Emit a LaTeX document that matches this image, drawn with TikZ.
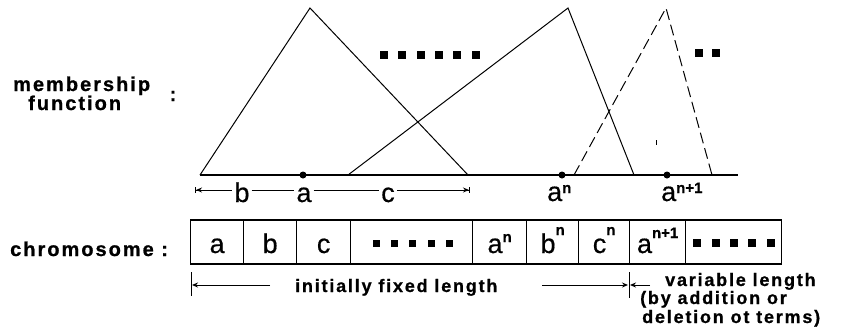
\documentclass[tikz,border=0pt]{standalone}
\usepackage{fontspec}
\setmainfont{Liberation Sans}
\newfontfamily\lblfont[LetterSpace=10,FakeBold=0.8]{Liberation Sans}
\newfontfamily\letfont[FakeBold=0.5]{Liberation Sans}
\usetikzlibrary{arrows.meta}
\newcommand\sups[2]{\raisebox{#1}{\bfseries\fontsize{15}{15}\selectfont #2}}
\tikzset{
  tri/.style={line width=1pt},
  axisline/.style={line width=1.3pt},
  lbl/.style={font={\lblfont\bfseries\fontsize{20}{22}\selectfont}, inner sep=0pt},
  small/.style={font={\lblfont\bfseries\fontsize{18}{20}\selectfont}, inner sep=0pt},
  letter/.style={font={\letfont\fontsize{27}{29}\selectfont}, inner sep=2pt, text height=24pt, text depth=0pt},
  freeletter/.style={font={\letfont\fontsize{27}{29}\selectfont}, inner sep=0pt},
  cell/.style={draw, line width=1.3pt, minimum height=44pt, inner sep=0pt, anchor=west,
     font={\letfont\fontsize{27}{29}\selectfont}, text height=22pt, text depth=0pt},
  sq/.style={fill=black, minimum size=7.5pt, inner sep=0pt},
  mdot/.style={circle, fill=black, minimum size=7pt, inner sep=0pt},
  lstart/.style={{Bar[width=6pt]Stealth[length=6pt,width=5pt]}-},
  lend/.style={-{Stealth[length=6pt,width=5pt]Bar[width=6pt]}},
  tipend/.style={-{Stealth[length=6pt,width=5pt]}},
  thin/.style={line width=1pt},
}
\begin{document}
\begin{tikzpicture}[x=1pt,y=-1pt]
\useasboundingbox (0,0) rectangle (843,327);

% membership functions
\coordinate (t1l) at (200,175); \coordinate (t1p) at (310,8); \coordinate (t1r) at (468,175);
\coordinate (t2l) at (348,175); \coordinate (t2p) at (568,8); \coordinate (t2r) at (634,175);
\coordinate (t3l) at (574,175); \coordinate (t3p) at (666,8); \coordinate (t3r) at (712,175);
\coordinate (ax0) at (200,175); \coordinate (ax1) at (738,175);
\draw[axisline] (ax0) -- (ax1);
\draw[tri] (t1l) -- (t1p) -- (t1r);
\draw[tri] (t2l) -- (t2p) -- (t2r);
\draw[tri, dash pattern=on 11pt off 5pt] (t3l) -- (t3p) -- (t3r);
\coordinate (mk0) at (656,140); \coordinate (mk1) at (656,145);
\draw[thin] (mk0) -- (mk1);

\node[mdot] (da) at (303,175) {};
\node[mdot] (dan) at (562,175) {};
\node[mdot] (dan1) at (667,175) {};

% top dots
\foreach \x [count=\i] in {384,402,421,439,457,476} \node[sq] (ts\i) at (\x,55) {};
\node[sq] (us1) at (699,53) {};
\node[sq] (us2) at (716,53) {};

% labels on the left
\node[lbl, anchor=base west] (mem) at (13,91) {membership};
\node[lbl, anchor=base west] (fun) at (28,110) {function};
\node[lbl, anchor=base] (col1) at (173,101) {:};
\node[lbl, anchor=base west] (chr) at (10,256) {chromosome :};

% axis labels row
\coordinate (r0) at (195,190);
\coordinate (r1) at (470,190);
\node[letter] (lb) at (242,190) {b};
\node[letter] (la) at (304,190) {a};
\node[letter] (lc) at (388,190) {c};
\draw[thin, lstart] (r0) -- (lb);
\draw[thin] (lb) -- (la);
\draw[thin] (la) -- (lc);
\draw[thin, lend] (lc) -- (r1);
\node[freeletter, anchor=base west] (lan) at (547,201) {a\sups{8pt}{n}};
\node[freeletter, anchor=base west] (lan1) at (661,201) {a\sups{8pt}{n+1}};

% chromosome
\node[cell, minimum width=53pt] (c1) at (190,242) {a};
\node[cell, minimum width=53pt] (c2) at (243,242) {b};
\node[cell, minimum width=54pt] (c3) at (296,242) {c};
\node[cell, minimum width=122pt] (c4) at (350,242) {};
\node[cell, minimum width=54pt] (c5) at (472,242) {a\sups{11pt}{n}};
\node[cell, minimum width=52pt] (c6) at (526,242) {b\sups{18pt}{n}};
\node[cell, minimum width=51pt] (c7) at (578,242) {c\sups{18pt}{n}};
\node[cell, minimum width=56pt] (c8) at (629,242) {a\sups{15pt}{n+1}};
\node[cell, minimum width=96pt] (c9) at (685,242) {};
\foreach \x [count=\i] in {376,394,412,431,449} \node[sq, minimum size=7pt] (cs\i) at (\x,243) {};
\foreach \x [count=\i] in {697,716,734,752,771} \node[sq, minimum size=8pt] (vs\i) at (\x,243) {};

% bottom annotations
\coordinate (bl0) at (191,272); \coordinate (bl1) at (191,296);
\draw[thin] (bl0) -- (bl1);
\coordinate (ba0) at (192,285); \coordinate (ba1) at (270,285);
\draw[thin, tipend] (ba1) -- (ba0);
\node[small, anchor=base west] (fixed) at (295,292) {initially fixed length};
\coordinate (bb0) at (542,285); \coordinate (bb1) at (628,285);
\draw[thin, tipend] (bb0) -- (bb1);
\coordinate (bm0) at (629,272); \coordinate (bm1) at (629,298);
\draw[thin] (bm0) -- (bm1);
\coordinate (bc0) at (650,285); \coordinate (bc1) at (630,285);
\draw[thin, tipend] (bc0) -- (bc1);
\node[small, anchor=base west] (var1) at (665,286) {variable length};
\node[small, anchor=base west] (var2) at (640,304) {(by addition or};
\node[small, anchor=base west] (var3) at (642,323) {deletion ot terms)};
\end{tikzpicture}
\end{document}
